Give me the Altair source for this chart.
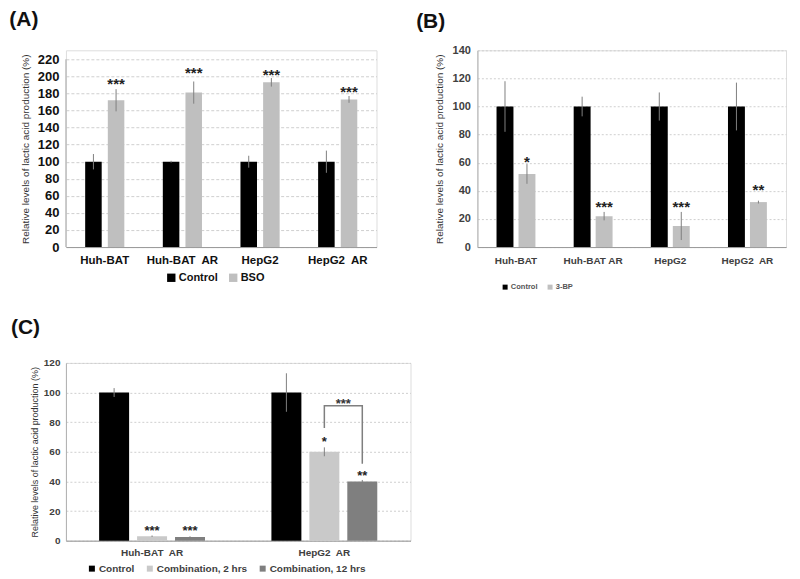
import altair as alt
import pandas as pd

FONT = "Liberation Sans"
YTITLE = "Relative levels of lactic acid production (%)"

# ---------------- Panel A data ----------------
cats_a = ["Huh-BAT", "Huh-BAT\u00a0 AR", "HepG2", "HepG2\u00a0 AR"]
series_a = ["Control", "BSO"]
ctrl_a = [100, 100, 100, 100]
ctrl_a_err = [9, 1, 7, 13]
bso_a = [172, 181, 193, 173]
bso_a_err = [13, 13, 5, 4]
bso_a_stars = ["***", "***", "***", "***"]
bso_a_star_y = [196, 209, 207, 187]
ticks_a = list(range(0, 221, 20))

# ---------------- Panel B data ----------------
cats_b = ["Huh-BAT", "Huh-BAT AR", "HepG2", "HepG2\u00a0 AR"]
series_b = ["Control", "3-BP"]
ctrl_b = [100, 100, 100, 100]
ctrl_b_err = [18, 7, 10, 17]
bp_b = [52, 22, 15, 32]
bp_b_err = [7, 3, 10, 1]
bp_b_stars = ["*", "***", "***", "**"]
bp_b_star_y = [64, 32, 32, 44]
ticks_b = list(range(0, 141, 20))

# ---------------- Panel C data ----------------
cats_c = ["Huh-BAT\u00a0 AR", "HepG2\u00a0 AR"]
series_c = ["Control", "Combination, 2 hrs", "Combination, 12 hrs"]
ctrl_c = [100, 100]
ctrl_c_err = [3, 13]
comb2_c = [3, 60]
comb2_c_err = [0.5, 3]
comb12_c = [2.5, 40]
comb12_c_err = [0.5, 1]
stars_c_cat = [cats_c[0], cats_c[0], cats_c[1], cats_c[1]]
stars_c_series = ["Combination, 2 hrs", "Combination, 12 hrs", "Combination, 2 hrs", "Combination, 12 hrs"]
stars_c_label = ["***", "***", "*", "**"]
stars_c_y = [9, 9, 69, 46.5]
bracket_c_series = ["Combination, 2 hrs", "Combination, 2 hrs", "Combination, 12 hrs", "Combination, 12 hrs"]
bracket_c_y = [76, 91, 91, 52]
bracket_c_label = "***"
bracket_c_label_y = 95
ticks_c = list(range(0, 121, 20))


def bars_df(cats, series, vals, errs):
    rows = []
    for s, v, e in zip(series, vals, errs):
        for c, m, er in zip(cats, v, e):
            rows.append({"cat": c, "series": s, "value": m, "lo": m - er, "hi": m + er})
    return pd.DataFrame(rows)


def panel(df, stars_df, cats, series, colors, ticks, ymax, width, height, title, title_dx,
          title_offset, ylab_size, ylab_color, ylab_pad, ytitle_size, ytitle_pad,
          xlab_size, xlab_color, xlab_pad, pad_inner, pad_outer, star_size,
          leg_x, leg_y, leg_size, leg_color, leg_symbol, leg_colpad, grid_dash,
          show_domain=True, extra=None, title_frame="bounds"):
    xscale = alt.Scale(paddingInner=0, paddingOuter=0)
    xaxis = alt.Axis(title=None, labelAngle=0, labelFont=FONT, labelFontSize=xlab_size,
                     labelFontWeight="bold", labelColor=xlab_color, ticks=False,
                     domainColor="#9a9a9a", labelPadding=xlab_pad)
    xoscale = alt.Scale(domain=series, paddingInner=pad_inner, paddingOuter=pad_outer)
    yscale = alt.Scale(domain=[0, ymax], nice=False, zero=True)
    yaxis = alt.Axis(values=ticks, title=YTITLE, labelOverlap=False,
                     titleFont=FONT, titleFontSize=ytitle_size, titleFontWeight="normal",
                     titleColor="#333333", titlePadding=ytitle_pad,
                     labelFont=FONT, labelFontSize=ylab_size, labelFontWeight="bold",
                     labelColor=ylab_color, labelPadding=ylab_pad, ticks=False,
                     domain=show_domain, domainColor="#b0b0b0",
                     gridColor="#cfcfcf", gridDash=grid_dash)

    def X():
        return alt.X("cat:N", sort=cats, scale=xscale, axis=xaxis)

    def XO():
        return alt.XOffset("series:N", sort=series, scale=xoscale)

    def Y(field):
        return alt.Y(field, scale=yscale, axis=yaxis)

    color = alt.Color("series:N", sort=series, scale=alt.Scale(domain=series, range=colors),
                      legend=alt.Legend(title=None, orient="none", direction="horizontal",
                                        legendX=leg_x, legendY=leg_y, symbolType="square",
                                        symbolSize=leg_symbol, symbolStrokeWidth=0,
                                        labelFont=FONT, labelFontSize=leg_size,
                                        labelFontWeight="bold", labelColor=leg_color,
                                        columnPadding=leg_colpad, labelOffset=2))
    bars = alt.Chart(df).mark_bar().encode(x=X(), xOffset=XO(), y=Y("value:Q"), color=color)
    err = alt.Chart(df).mark_rule(color="#808080", strokeWidth=1).encode(
        x=X(), xOffset=XO(), y=Y("lo:Q"), y2="hi:Q")
    stars = alt.Chart(stars_df).mark_text(font=FONT, fontSize=star_size, fontWeight="bold",
                                          color="#222222", baseline="middle", dy=star_size * 0.3).encode(
        x=X(), xOffset=XO(), y=Y("y:Q"), text="label:N")
    layers = [bars, err, stars]
    if not show_domain:
        dom = pd.DataFrame({"lo": [ticks[0]], "hi": [ticks[-1]]})
        layers.append(alt.Chart(dom).mark_rule(color="#a8a8a8", strokeWidth=1).encode(
            x=alt.value(0), y=Y("lo:Q"), y2="hi:Q"))
    if extra:
        layers += [e(X, XO, Y) for e in extra]
    return alt.layer(*layers).properties(
        width=width, height=height,
        title=alt.TitleParams(title, anchor="start", frame=title_frame, font=FONT, fontSize=21,
                              fontWeight="bold", color="#111111", dx=title_dx, offset=title_offset))


# Panel A (plot area extends a little above 220 so that its top lines up with panel B)
df_a = bars_df(cats_a, series_a, [ctrl_a, bso_a], [ctrl_a_err, bso_a_err])
stars_a = pd.DataFrame({"cat": cats_a, "series": "BSO", "label": bso_a_stars, "y": bso_a_star_y})
A = panel(df_a, stars_a, cats_a, series_a, ["#000000", "#bfbfbf"], ticks_a, 220 * 197 / 188, 311, 197,
          "(A)", -11, 20, 13, "#111111", 7, 10, 7, 11.5, "#111111", 7, 0.27, 0.85, 15,
          100, 222, 11, "#111111", 70, 9, [3, 2], show_domain=False)

df_b = bars_df(cats_b, series_b, [ctrl_b, bp_b], [ctrl_b_err, bp_b_err])
stars_b = pd.DataFrame({"cat": cats_b, "series": "3-BP", "label": bp_b_stars, "y": bp_b_star_y})
B = panel(df_b, stars_b, cats_b, series_b, ["#000000", "#c0c0c0"], ticks_b, 140, 309, 197,
          "(B)", -18, 12, 11, "#404040", 7, 10, 8, 10, "#404040", 8, 0.23, 0.87, 15,
          24, 233, 7.5, "#555555", 25, 8, [2, 2])

df_c = bars_df(cats_c, series_c, [ctrl_c, comb2_c, comb12_c], [ctrl_c_err, comb2_c_err, comb12_c_err])
stars_c = pd.DataFrame({"cat": stars_c_cat, "series": stars_c_series, "label": stars_c_label, "y": stars_c_y})
bracket_df = pd.DataFrame({"cat": cats_c[1], "series": bracket_c_series, "y": bracket_c_y,
                           "ord": list(range(len(bracket_c_y)))})
bracket_lbl = pd.DataFrame({"cat": [cats_c[1]], "series": ["Combination, 2 hrs"],
                            "label": [bracket_c_label], "y": [bracket_c_label_y]})


def bracket_layer(X, XO, Y):
    return alt.Chart(bracket_df).mark_line(color="#7f7f7f", strokeWidth=1.5).encode(
        x=X(), xOffset=XO(), y=Y("y:Q"), order="ord:Q")


def bracket_text_layer(X, XO, Y):
    return alt.Chart(bracket_lbl).mark_text(font=FONT, fontSize=13, fontWeight="bold",
                                            color="#333333", baseline="middle", dx=19, dy=4).encode(
        x=X(), xOffset=XO(), y=Y("y:Q"), text="label:N")


C = panel(df_c, stars_c, cats_c, series_c, ["#000000", "#c9c9c9", "#7f7f7f"], ticks_c, 120, 345, 178,
          "(C)", -55, 20, 10, "#404040", 6, 9, 4, 10, "#404040", 7, 0.21, 0.875, 13,
          21, 201, 10, "#404040", 36, 10, [2, 2], extra=[bracket_layer, bracket_text_layer],
          title_frame="group")

top = alt.hconcat(A, B, spacing=38).resolve_scale(color="independent", xOffset="independent")
chart = alt.vconcat(top, C, spacing=24).resolve_scale(
    color="independent", xOffset="independent").properties(
    padding={"left": 0, "top": 0, "right": 5, "bottom": 0}
).configure_view(stroke=None).configure(background="white")

chart.save("out.html", embed_options={"renderer": "svg", "actions": False})
